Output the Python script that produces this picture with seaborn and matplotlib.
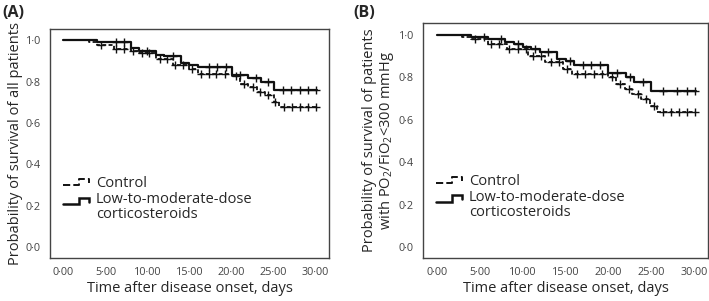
import numpy as np
import pandas as pd
import matplotlib
matplotlib.use("Agg")
import matplotlib.pyplot as plt
from matplotlib.lines import Line2D
from matplotlib.legend_handler import HandlerLine2D
from matplotlib.ticker import FuncFormatter
import seaborn as sns

# ---------------------------------------------------------------
# Kaplan-Meier step values
# ---------------------------------------------------------------
END_DAY = 30.2

# Panel A - all patients
a_ctrl_t = [0, 3, 4, 6, 8, 9, 11, 13, 15, 16, 20, 21, 22, 23, 24, 25, 25.6]
a_ctrl_s = [1.0, 0.99, 0.98, 0.96, 0.95, 0.94, 0.91, 0.88, 0.86, 0.839, 0.826,
            0.79, 0.774, 0.75, 0.734, 0.702, 0.678]
a_ctrl_cens = [4.5, 6.3, 7.2, 8.3, 9.4, 10.2, 11.5, 12.3, 13.3, 14.2, 15.3, 16.4, 17.3,
               18.2, 19.2, 20.5, 21.5, 22.5, 23.4, 24.4, 25.2, 26.2, 27.2, 28.1, 29.1, 30.1]

a_trt_t = [0, 4, 8, 9, 11, 12, 14, 15, 16, 20, 22, 23.5, 25]
a_trt_s = [1.0, 0.99, 0.964, 0.948, 0.93, 0.924, 0.893, 0.883, 0.869, 0.835,
           0.82, 0.798, 0.762]
a_trt_cens = [6.2, 7.2, 10.0, 13.0, 17.3, 18.3, 19.3, 21.0, 22.9, 24.3,
              26.1, 27.1, 28.1, 29.1, 30.1]

# Panel B - patients with PO2/FiO2 < 300 mmHg
b_ctrl_t = [0, 3, 4, 6, 8.2, 10.6, 12.6, 14.7, 15.7, 20, 20.9, 21.9, 22.8, 23.8, 24.8, 25.7]
b_ctrl_s = [1.0, 0.99, 0.98, 0.956, 0.932, 0.90, 0.87, 0.836, 0.814, 0.80,
            0.767, 0.743, 0.72, 0.696, 0.664, 0.636]
b_ctrl_cens = [4.5, 6.3, 7.3, 8.4, 9.5, 10.4, 11.2, 12.2, 13.3, 14.2, 15.2, 16.3, 17.3,
               18.3, 19.3, 20.4, 21.4, 22.4, 23.4, 24.4, 25.3, 26.3, 27.3, 28.2, 29.1, 30.1]

b_trt_t = [0, 4, 6, 8, 9, 10, 11, 12, 14, 15, 16, 20, 22, 23, 25]
b_trt_s = [1.0, 0.991, 0.98, 0.967, 0.956, 0.943, 0.932, 0.92, 0.885, 0.874,
           0.857, 0.819, 0.80, 0.775, 0.733]
b_trt_cens = [5.5, 7.5, 9.5, 11.5, 13.0, 15.5, 17.0, 18.0, 19.0, 21.0, 22.5,
              24.0, 26.3, 28.0, 29.2, 30.1]

X_TICKS = [0, 5, 10, 15, 20, 25, 30]
Y_TICKS = [0.0, 0.2, 0.4, 0.6, 0.8, 1.0]

GROUPS = ["Control", "Low-to-moderate-dose\ncorticosteroids"]

sns.set_style("white")
plt.rcParams["font.family"] = ["Open Sans", "DejaVu Sans"]
plt.rcParams["mathtext.fontset"] = "custom"
plt.rcParams["mathtext.rm"] = "Open Sans"

LINE_COL = "#111111"
DASH = (0, (2.2, 1.3))


def step_frame(times, surv):
    # extend the last level out to the end of follow-up
    t = list(times) + [END_DAY]
    s = list(surv) + [surv[-1]]
    return pd.DataFrame({"day": t, "surv": s})


def censor_frame(times, surv, cens):
    idx = np.searchsorted(np.asarray(times), np.asarray(cens), side="right") - 1
    return pd.DataFrame({"day": cens, "surv": np.asarray(surv)[idx]})


class StepHandler(HandlerLine2D):
    def __init__(self, yshift=0.0, **kw):
        super().__init__(**kw)
        self.yshift = yshift

    def create_artists(self, legend, orig_handle, xdescent, ydescent,
                       width, height, fontsize, trans):
        x0 = -xdescent
        y0 = -ydescent + self.yshift * fontsize
        xs = [x0, x0 + 0.6 * width, x0 + 0.6 * width, x0 + width, x0 + width]
        ys = [y0 + 0.15 * height, y0 + 0.15 * height, y0 + 0.75 * height,
              y0 + 0.75 * height, y0 + 0.35 * height]
        line = Line2D(xs, ys, color=LINE_COL, lw=orig_handle.get_linewidth(),
                      linestyle=orig_handle.get_linestyle(), solid_joinstyle="miter")
        line.set_transform(trans)
        return [line]


def draw_panel(ax, ctrl, trt, ylabel):
    (ct, cs, cc), (tt, ts, tc) = ctrl, trt
    sns.lineplot(data=step_frame(ct, cs), x="day", y="surv", ax=ax,
                 drawstyle="steps-post", color=LINE_COL, lw=1.3, linestyle=DASH)
    sns.lineplot(data=step_frame(tt, ts), x="day", y="surv", ax=ax,
                 drawstyle="steps-post", color=LINE_COL, lw=1.6)
    sns.scatterplot(data=censor_frame(ct, cs, cc), x="day", y="surv", ax=ax,
                    marker="+", s=34, color=LINE_COL, linewidth=1.0)
    sns.scatterplot(data=censor_frame(tt, ts, tc), x="day", y="surv", ax=ax,
                    marker="+", s=34, color=LINE_COL, linewidth=1.0)

    ax.set_xlim(-1.6, 31.6)
    ax.set_ylim(-0.052, 1.055)
    ax.set_xticks(X_TICKS)
    ax.set_yticks(Y_TICKS)
    ax.xaxis.set_major_formatter(FuncFormatter(lambda v, p: f"{v:.2f}".replace(".", "\u00b7")))
    ax.yaxis.set_major_formatter(FuncFormatter(lambda v, p: f"{v:.1f}".replace(".", "\u00b7")))
    ax.tick_params(axis="both", direction="out", length=4, width=0.9, color="#333333",
                   labelsize=7.8, labelcolor="#444444", pad=2.5)
    for sp in ax.spines.values():
        sp.set_visible(True)
        sp.set_color("#444444")
        sp.set_linewidth(1.0)

    ax.set_xlabel("Time after disease onset, days", fontsize=10.5, labelpad=2)
    ax.set_ylabel(ylabel, fontsize=10.5, labelpad=2, linespacing=1.0)

    h_ctrl = Line2D([], [], color=LINE_COL, lw=1.4, linestyle=DASH)
    h_trt = Line2D([], [], color=LINE_COL, lw=1.8)
    leg = ax.legend([h_ctrl, h_trt], GROUPS, loc="upper left",
                    bbox_to_anchor=(0.02, 0.39), frameon=False, fontsize=10.5,
                    handlelength=1.8, handletextpad=0.45, labelspacing=0.1,
                    borderpad=0.0, handler_map={h_ctrl: StepHandler(),
                                                h_trt: StepHandler(yshift=0.5)})
    for t in leg.get_texts():
        t.set_linespacing(0.95)


fig = plt.figure(figsize=(7.09, 3.01), dpi=100)
ax_a = fig.add_axes([50 / 709, 43 / 301, 279 / 709, 229 / 301])
ax_b = fig.add_axes([423 / 709, 43 / 301, 285 / 709, 235 / 301])

draw_panel(ax_a, (a_ctrl_t, a_ctrl_s, a_ctrl_cens), (a_trt_t, a_trt_s, a_trt_cens),
           "Probability of survival of all patients")
draw_panel(ax_b, (b_ctrl_t, b_ctrl_s, b_ctrl_cens), (b_trt_t, b_trt_s, b_trt_cens),
           "Probability of survival of patients\nwith PO$_2$/FiO$_2$<300 mmHg")

fig.text(0.003, 0.985, "(A)", fontsize=11.5, fontweight="bold", va="top")
fig.text(0.499, 0.985, "(B)", fontsize=11.5, fontweight="bold", va="top")

fig.savefig("out.png", dpi=100)
